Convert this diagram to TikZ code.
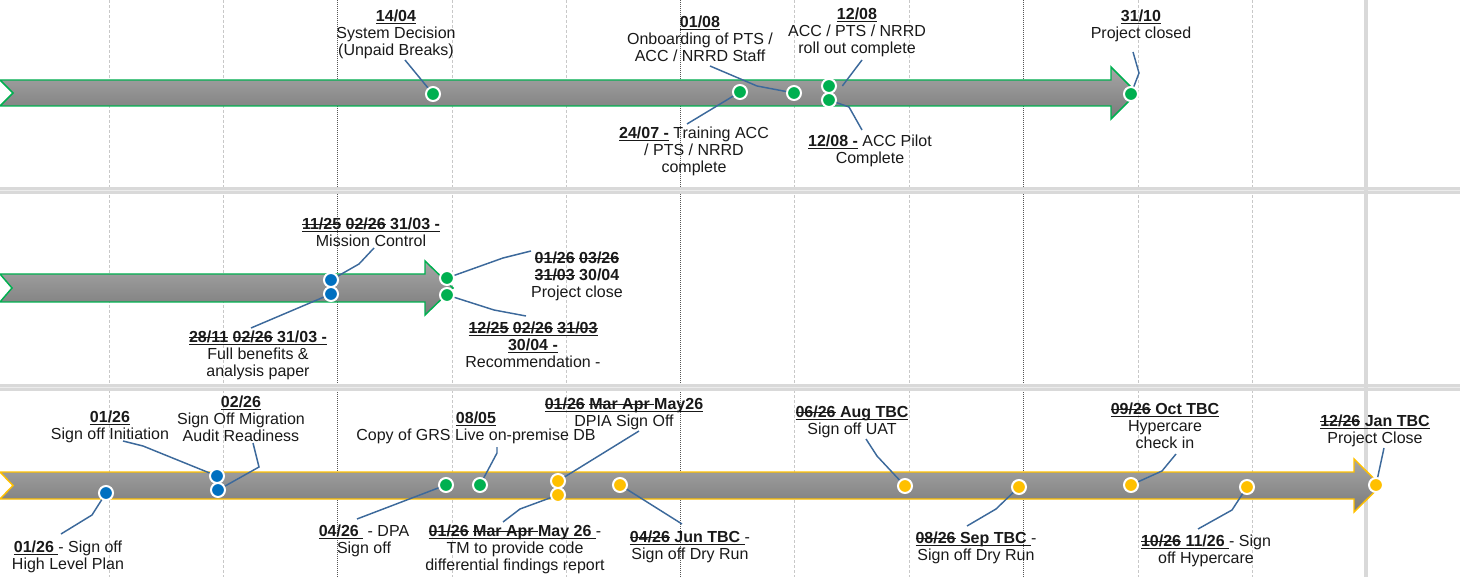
\documentclass[tikz,border=0pt]{standalone}
\usepackage{fontspec}
\setmainfont{Liberation Sans}
\usepackage{tikz}
\usetikzlibrary{positioning, calc}
\definecolor{msgreen}{RGB}{0,176,80}
\definecolor{msblue}{RGB}{0,112,192}
\definecolor{msamber}{RGB}{255,192,0}
\definecolor{leadblue}{RGB}{60,105,155}
\definecolor{lanetop}{RGB}{166,166,166}
\definecolor{lanebot}{RGB}{122,122,122}
\definecolor{gridlt}{RGB}{200,200,200}
\definecolor{griddk}{RGB}{85,85,85}
\definecolor{bandgray}{RGB}{217,217,217}
\definecolor{bandmid}{RGB}{236,236,236}
\newsavebox{\udbox}
\newsavebox{\stkbox}
\newcommand{\ud}[1]{\sbox{\udbox}{\textbf{#1}}\rlap{\rule[-0.12em]{\wd\udbox}{0.07em}}\usebox{\udbox}}
\newcommand{\stk}[1]{\sbox{\stkbox}{#1}\rlap{\rule[0.3em]{\wd\stkbox}{0.075em}}\usebox{\stkbox}}

\begin{document}
\begin{tikzpicture}[
    x=0.75pt, y=-0.75pt,
    ms/.style={circle, draw=white, line width=1.5pt, minimum size=10.5pt, inner sep=0pt},
    msg/.style={ms, fill=msgreen},
    msb/.style={ms, fill=msblue},
    msa/.style={ms, fill=msamber},
    lbl/.style={align=center, inner sep=0pt, anchor=north, text=black!90,
                font=\fontsize{12}{12.75}\selectfont},
    lead/.style={draw=leadblue, line width=1.1pt},
    lane/.style={line width=1.1pt, top color=lanetop, bottom color=lanebot},
    gridl/.style={draw=gridlt, line width=0.75pt, dash pattern=on 2.25pt off 1.5pt},
    gridd/.style={draw=griddk, line width=0.75pt, dash pattern=on 0.75pt off 0.75pt}
  ]

    \useasboundingbox (0,0) rectangle (1460,577);

    \foreach \gx in {109,223,452,566,794,909,1138,1252}
      \draw[gridl] (\gx,0) -- (\gx,577);
    \foreach \gx in {337,680,1023}
      \draw[gridd] (\gx,0) -- (\gx,577);
    \foreach \by in {187,384} {
      \fill[bandgray] (0,\by) rectangle (1460,\by+7);
      \draw[bandmid, line width=0.75pt] (0,\by+3.5) -- (1460,\by+3.5);
    }
    \draw[bandgray, line width=3pt] (1366,0) -- (1366,577);

    \draw[lane, draw=msgreen] (0,80) -- (1111,80) -- (1111,67) -- (1137,93) -- (1111,119) -- (1111,106) -- (0,106) -- (13,93) -- cycle;
    \draw[lane, draw=msgreen] (0,274) -- (425,274) -- (425,261) -- (453,288) -- (425,315) -- (425,302) -- (0,302) -- (12,288) -- cycle;
    \draw[lane, draw=msamber] (0,472) -- (1354,472) -- (1354,459) -- (1381,485.5) -- (1354,512) -- (1354,499) -- (0,499) -- (13,485.5) -- cycle;

    % milestones
    \node[msg] (m1404)  at (433,94)  {};
    \node[msg] (m2407)  at (740,92)  {};
    \node[msg] (m0108)  at (794,93)  {};
    \node[msg] (m1208r) at (829,86)  {};
    \node[msg] (m1208p) at (829,100) {};
    \node[msg] (m3110)  at (1131,94) {};

    \node[msb] (m3103m) at (331,280) {};
    \node[msb] (m3103f) at (331,294) {};
    \node[msg] (m3004p) at (447,278) {};
    \node[msg] (m3004r) at (447,295) {};

    \node[msb] (m0126h) at (106,493)  {};
    \node[msb] (m0126i) at (217,476)  {};
    \node[msb] (m0226)  at (218,490)  {};
    \node[msg] (m0426d) at (446,485)  {};
    \node[msg] (m0805)  at (480,485)  {};
    \node[msa] (m0126s) at (558,481)  {};
    \node[msa] (m0126t) at (558,495)  {};
    \node[msa] (m0426r) at (620,485)  {};
    \node[msa] (m0626)  at (905,486)  {};
    \node[msa] (m0826)  at (1019,487) {};
    \node[msa] (m0926)  at (1131,485) {};
    \node[msa] (m1026)  at (1247,487) {};
    \node[msa] (m1226)  at (1376,485) {};

    % labels
    \node[lbl] (t1404)  at (396,10)  {\ud{14/04}\\System Decision\\(Unpaid Breaks)};
    \node[lbl] (t0108)  at (700,16)  {\ud{01/08}\\Onboarding of PTS /\\ACC / NRRD Staff};
    \node[lbl] (t1208r) at (857,8)   {\ud{12/08}\\ACC / PTS / NRRD\\roll out complete};
    \node[lbl] (t2407)  at (694,127) {\ud{24/07 -} Training ACC\\/ PTS / NRRD\\complete};
    \node[lbl] (t1208p) at (870,135) {\ud{12/08 -} ACC Pilot\\Complete};
    \node[lbl] (t3110)  at (1141,10) {\ud{31/10}\\Project closed};

    \node[lbl] (t3103m) at (371,218) {\ud{\stk{11/25} \stk{02/26} 31/03 -}\\Mission Control};
    \node[lbl] (t3004p) at (577,252) {\textbf{\stk{01/26} \stk{03/26}}\\\textbf{\stk{31/03} 30/04}\\Project close};
    \node[lbl] (t3103f) at (258,331) {\ud{\stk{28/11} \stk{02/26} 31/03 -}\\Full benefits \&\\analysis paper};
    \node[lbl] (t3004r) at (533,322) {\ud{\stk{12/25} \stk{02/26} \stk{31/03}}\\\ud{30/04 -}\\Recommendation -};

    \node[lbl] (t0126i) at (110,411)  {\ud{01/26}\\Sign off Initiation};
    \node[lbl] (t0226)  at (241,396)  {\ud{02/26}\\Sign Off Migration\\Audit Readiness};
    \node[lbl] (t0805)  at (476,412)  {\ud{08/05}\\Copy of GRS Live on-premise DB};
    \node[lbl] (t0126s) at (624,398)  {\ud{\stk{01/26} \stk{Mar Apr }May26}\\DPIA Sign Off};
    \node[lbl] (t0626)  at (852,406)  {\ud{\stk{06/26} Aug TBC}\\Sign off UAT};
    \node[lbl] (t0926)  at (1165,403) {\ud{\stk{09/26} Oct TBC}\\Hypercare\\check in};
    \node[lbl] (t1226)  at (1375,415) {\ud{\stk{12/26} Jan TBC}\\Project Close};

    \node[lbl] (t0126h) at (68,541)   {\ud{01/26 }- Sign off\\High Level Plan};
    \node[lbl] (t0426d) at (364,525)  {\ud{04/26 } - DPA\\Sign off};
    \node[lbl] (t0126t) at (515,525)  {\ud{\stk{01/26} \stk{Mar Apr }May 26 }-\\TM to provide code\\differential findings report};
    \node[lbl] (t0426r) at (690,531)  {\ud{\stk{04/26} Jun TBC }-\\Sign off Dry Run};
    \node[lbl] (t0826)  at (976,532)  {\ud{\stk{08/26} Sep TBC }-\\Sign off Dry Run};
    \node[lbl] (t1026)  at (1206,535) {\ud{\stk{10/26} 11/26 }- Sign\\off Hypercare};

    % leader lines
    \coordinate (p1404)  at (405,60);
    \coordinate (p0108)  at (710,66);
    \coordinate (p1208r) at (862,60);
    \coordinate (p2407)  at (687,124);
    \coordinate (p1208p) at (862,130);
    \coordinate (p3110)  at (1133,52);
    \coordinate (p3103m) at (374,248);
    \coordinate (p3004p) at (531,251);
    \coordinate (p3103f) at (251,328);
    \coordinate (p3004r) at (526,316);
    \coordinate (p0126h) at (61,534);
    \coordinate (p0126i) at (123,441);
    \coordinate (p0226)  at (253,443);
    \coordinate (p0805)  at (497,447);
    \coordinate (p0126s) at (639,431);
    \coordinate (p0626)  at (866,439);
    \coordinate (p0926)  at (1176,454);
    \coordinate (p1226)  at (1384,448);
    \coordinate (p0426d) at (357,519);
    \coordinate (p0126t) at (503,522);
    \coordinate (p0426r) at (682,524);
    \coordinate (p0826)  at (967,526);
    \coordinate (p1026)  at (1198,529);

    \draw[lead] (p1404) -- (m1404);
    \draw[lead] (p0108) -- ++(47,20) -- (m0108);
    \draw[lead] (p1208r) -- ([xshift=4pt]m1208r.east);
    \draw[lead] (p2407) -- (m2407);
    \draw[lead] (p1208p) -- ++(-13,-23) -- (m1208p);
    \draw[lead] (p3110) -- ++(6,21) -- (m3110);
    \draw[lead] (p3103m) -- ++(-15,16) -- (m3103m);
    \draw[lead] (p3004p) -- ++(-28,7) -- (m3004p);
    \draw[lead] (p3103f) -- (m3103f);
    \draw[lead] (p3004r) -- ++(-32,-6) -- (m3004r);
    \draw[lead] (p0126h) -- ++(31,-19) -- (m0126h);
    \draw[lead] (p0126i) -- ++(20,5) -- (m0126i);
    \draw[lead] (p0226) -- ++(6,24) -- (m0226);
    \draw[lead] (p0805) -- ++(0,6) -- (m0805);
    \draw[lead] (p0126s) -- (m0126s);
    \draw[lead] (p0626) -- ++(11,17) -- (m0626);
    \draw[lead] (p0926) -- ++(-14,17) -- (m0926);
    \draw[lead] (p1226) -- (m1226);
    \draw[lead] (p0426d) -- (m0426d);
    \draw[lead] (p0126t) -- ++(17,-13) -- (m0126t);
    \draw[lead] (p0426r) -- (m0426r);
    \draw[lead] (p0826) -- ++(29,-17) -- (m0826);
    \draw[lead] (p1026) -- ++(34,-19) -- (m1026);

  \end{tikzpicture}
\end{document}
